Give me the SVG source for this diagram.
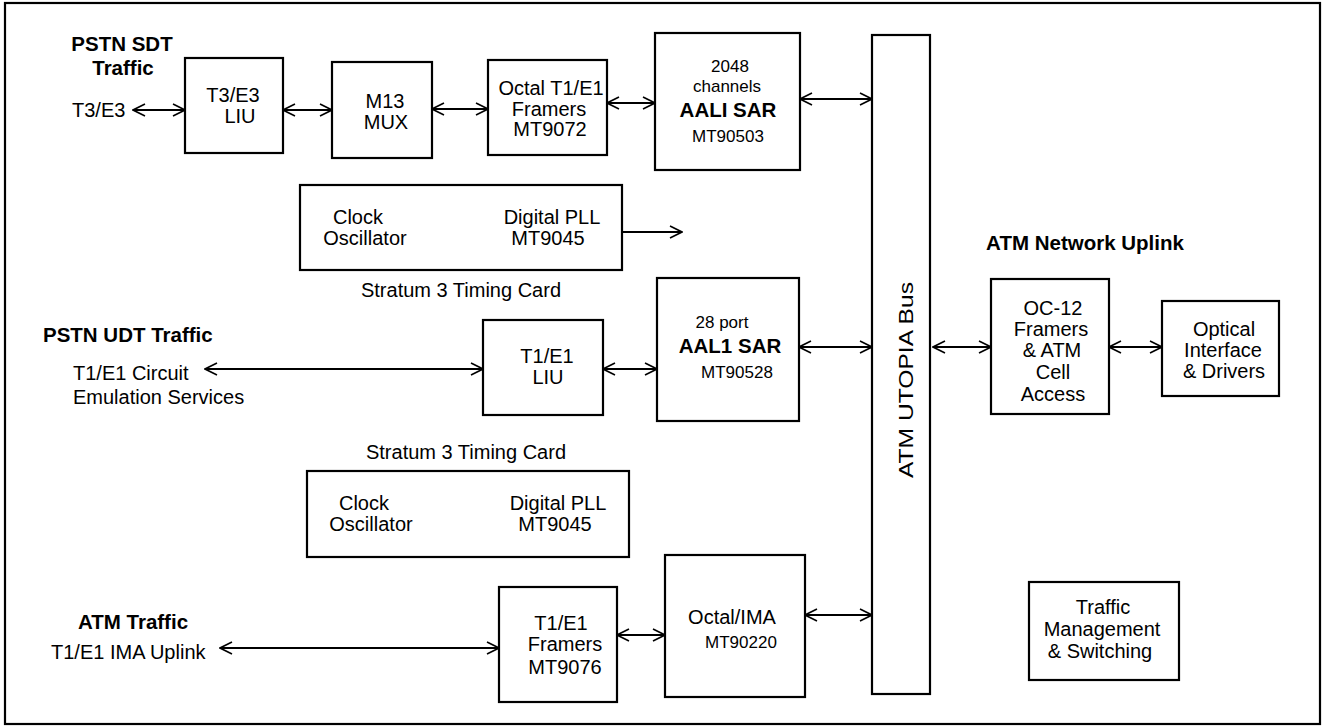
<svg xmlns="http://www.w3.org/2000/svg" width="1325" height="726" viewBox="0 0 1325 726">
<style>
text{font-family:"Liberation Sans",Arial,sans-serif;font-size:20px;fill:#000}
.b{font-weight:bold;font-size:20.5px}
.s{font-size:17px}
.m{text-anchor:middle}
rect{fill:none;stroke:#000;stroke-width:2.2}
.c line{stroke:#000;stroke-width:2}
</style>
<defs>
<marker id="ah" viewBox="0 0 14 14" refX="13" refY="7" markerWidth="14" markerHeight="14" markerUnits="userSpaceOnUse" orient="auto-start-reverse">
<path d="M1,1 L13,7 L1,13" fill="none" stroke="#000" stroke-width="1.6"/>
</marker>
</defs>
<rect id="frame" x="5" y="3" width="1315" height="721"/>

<g id="labels">
<text class="b m" x="122" y="51">PSTN SDT</text>
<text class="b m" x="123" y="75">Traffic</text>
<text x="72" y="117">T3/E3</text>
<text class="b" x="43" y="342">PSTN UDT Traffic</text>
<text x="73" y="380">T1/E1 Circuit</text>
<text x="73" y="404">Emulation Services</text>
<text class="b m" x="133" y="629">ATM Traffic</text>
<text x="51" y="659">T1/E1 IMA Uplink</text>
<text class="b m" x="1085" y="250">ATM Network Uplink</text>
<text class="m" x="461" y="297">Stratum 3 Timing Card</text>
<text class="m" x="466" y="459">Stratum 3 Timing Card</text>
</g>

<g id="t3e3-liu">
<rect x="185" y="58" width="98" height="95"/>
<text class="m" x="233" y="102">T3/E3</text>
<text class="m" x="240" y="123">LIU</text>
</g>
<g id="m13-mux">
<rect x="332" y="62" width="100" height="96"/>
<text class="m" x="385" y="108">M13</text>
<text class="m" x="386" y="129">MUX</text>
</g>
<g id="octal-framers">
<rect x="488" y="60" width="119" height="95"/>
<text class="m" x="551" y="95">Octal T1/E1</text>
<text class="m" x="549" y="116">Framers</text>
<text class="m" x="550" y="136">MT9072</text>
</g>
<g id="aali-sar">
<rect x="655" y="33" width="145" height="137"/>
<text class="m s" x="730" y="72">2048</text>
<text class="m s" x="727" y="92">channels</text>
<text class="b m" x="728" y="117">AALI SAR</text>
<text class="m s" x="728" y="142">MT90503</text>
</g>
<g id="utopia-bus">
<rect x="872" y="35" width="58" height="659"/>
<text class="m" transform="translate(913,380) rotate(-90)" x="0" y="0" textLength="196" lengthAdjust="spacingAndGlyphs">ATM UTOPIA Bus</text>
</g>
<g id="timing-card-1">
<rect x="300" y="185" width="322" height="85"/>
<text class="m" x="358" y="224">Clock</text>
<text class="m" x="365" y="245">Oscillator</text>
<text class="m" x="552" y="224">Digital PLL</text>
<text class="m" x="548" y="245">MT9045</text>
</g>
<g id="t1e1-liu">
<rect x="483" y="320" width="120" height="95"/>
<text class="m" x="547" y="363">T1/E1</text>
<text class="m" x="548" y="384">LIU</text>
</g>
<g id="aal1-sar">
<rect x="657" y="278" width="142" height="143"/>
<text class="m s" x="722" y="328">28 port</text>
<text class="b m" x="730" y="353">AAL1 SAR</text>
<text class="m s" x="737" y="378">MT90528</text>
</g>
<g id="timing-card-2">
<rect x="307" y="471" width="322" height="86"/>
<text class="m" x="364" y="510">Clock</text>
<text class="m" x="371" y="531">Oscillator</text>
<text class="m" x="558" y="510">Digital PLL</text>
<text class="m" x="555" y="531">MT9045</text>
</g>
<g id="t1e1-framers">
<rect x="499" y="587" width="118" height="115"/>
<text class="m" x="561" y="630">T1/E1</text>
<text class="m" x="565" y="651">Framers</text>
<text class="m" x="565" y="674">MT9076</text>
</g>
<g id="octal-ima">
<rect x="665" y="555" width="140" height="142"/>
<text class="m" x="732" y="624">Octal/IMA</text>
<text class="m s" x="741" y="648">MT90220</text>
</g>
<g id="oc12">
<rect x="991" y="279" width="118" height="135"/>
<text class="m" x="1053" y="315">OC-12</text>
<text class="m" x="1051" y="336">Framers</text>
<text class="m" x="1052" y="357">&amp; ATM</text>
<text class="m" x="1053" y="379">Cell</text>
<text class="m" x="1053" y="401">Access</text>
</g>
<g id="optical">
<rect x="1162" y="301" width="117" height="95"/>
<text class="m" x="1224" y="336">Optical</text>
<text class="m" x="1223" y="357">Interface</text>
<text class="m" x="1224" y="378">&amp; Drivers</text>
</g>
<g id="traffic-mgmt">
<rect x="1029" y="582" width="150" height="98"/>
<text class="m" x="1103" y="614">Traffic</text>
<text class="m" x="1102" y="636">Management</text>
<text class="m" x="1100" y="658">&amp; Switching</text>
</g>

<g id="connectors" class="c">
<line x1="133" y1="110" x2="185" y2="110" marker-start="url(#ah)" marker-end="url(#ah)"/>
<line x1="283" y1="110" x2="332" y2="110" marker-start="url(#ah)" marker-end="url(#ah)"/>
<line x1="432" y1="109" x2="488" y2="109" marker-start="url(#ah)" marker-end="url(#ah)"/>
<line x1="607" y1="103" x2="655" y2="103" marker-start="url(#ah)" marker-end="url(#ah)"/>
<line x1="800" y1="99" x2="872" y2="99" marker-start="url(#ah)" marker-end="url(#ah)"/>
<line x1="622" y1="232" x2="682" y2="232" marker-end="url(#ah)"/>
<line x1="205" y1="369" x2="483" y2="369" marker-start="url(#ah)" marker-end="url(#ah)"/>
<line x1="603" y1="369" x2="657" y2="369" marker-start="url(#ah)" marker-end="url(#ah)"/>
<line x1="799" y1="347" x2="872" y2="347" marker-start="url(#ah)" marker-end="url(#ah)"/>
<line x1="220" y1="648" x2="499" y2="648" marker-start="url(#ah)" marker-end="url(#ah)"/>
<line x1="617" y1="635" x2="665" y2="635" marker-start="url(#ah)" marker-end="url(#ah)"/>
<line x1="805" y1="615" x2="872" y2="615" marker-start="url(#ah)" marker-end="url(#ah)"/>
<line x1="933" y1="347" x2="991" y2="347" marker-start="url(#ah)" marker-end="url(#ah)"/>
<line x1="1109" y1="347" x2="1162" y2="347" marker-start="url(#ah)" marker-end="url(#ah)"/>
</g>
</svg>
